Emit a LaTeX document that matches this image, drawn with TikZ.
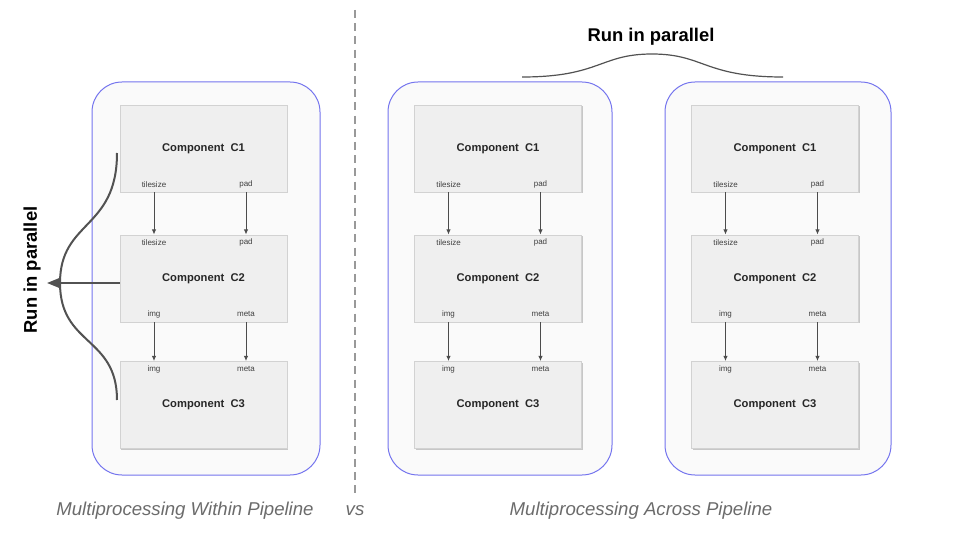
\documentclass[tikz,border=0pt]{standalone}
\usepackage{fontspec}
\setmainfont{Liberation Sans}
\usepackage{xcolor}
\usetikzlibrary{arrows.meta,calc,shadows}

\definecolor{frameblue}{HTML}{7474EE}
\definecolor{panel}{HTML}{FAFAFA}
\definecolor{boxfill}{HTML}{EFEFEF}
\definecolor{boxline}{HTML}{D2D2D2}

\begin{document}
\begin{tikzpicture}[x=0.5pt,y=-0.5pt,
  font=\fontsize{5.5}{6.5}\selectfont,
  pipe/.style={draw=frameblue,fill=panel,line width=0.5pt,rounded corners=15pt,minimum width=#1,minimum height=196.5pt},
  comp/.style={draw=boxline,fill=boxfill,line width=0.4pt,minimum width=83.5pt,minimum height=43.5pt,
    font=\fontsize{5.6}{6.5}\selectfont\bfseries,text=black!85,
    drop shadow={shadow xshift=0.6pt,shadow yshift=-0.6pt,fill=black!22,opacity=1}},
  port/.style={font=\fontsize{4}{5}\selectfont,text=black!75,inner sep=0pt},
  arr/.style={-{Latex[length=2.6pt,width=2.2pt]},draw=black!70,line width=0.45pt},
  curl/.style={draw=black!68,line width=1pt},
  title/.style={font=\fontsize{9.2}{11}\selectfont\bfseries},
  caption/.style={font=\fontsize{9.3}{11}\selectfont\itshape,text=black!58}
]
\useasboundingbox (0,0) rectangle (960,540);
% containers
\node[pipe=114pt] (within) at (206,278.5) {};
\node[pipe=112pt] (across1) at (500,278.5) {};
\node[pipe=113pt] (across2) at (778,278.5) {};
% three pipelines
\foreach \p/\x in {a/203.5,b/498,c/775}{
  \node[comp] (\p1) at (\x,148.5) {Component~ C1};
  \node[comp] (\p2) at (\x,278.5) {Component~ C2};
  \node[comp] (\p3) at (\x,405) {Component~ C3};
  \node[port] (\p1t) at ($(\p1.south)+(-49.5,-8)$) {tilesize};
  \node[port] (\p1p) at ($(\p1.south)+(42.5,-8)$) {pad};
  \node[port] (\p2t) at ($(\p2.north)+(-49.5,8)$) {tilesize};
  \node[port] (\p2p) at ($(\p2.north)+(42.5,8)$) {pad};
  \node[port] (\p2i) at ($(\p2.south)+(-49.5,-8)$) {img};
  \node[port] (\p2m) at ($(\p2.south)+(42.5,-8)$) {meta};
  \node[port] (\p3i) at ($(\p3.north)+(-49.5,8)$) {img};
  \node[port] (\p3m) at ($(\p3.north)+(42.5,8)$) {meta};
  \draw[arr] (\p1.south -| \p1t) -- (\p2.north -| \p1t);
  \draw[arr] (\p1.south -| \p1p) -- (\p2.north -| \p1p);
  \draw[arr] (\p2.south -| \p2i) -- (\p3.north -| \p2i);
  \draw[arr] (\p2.south -| \p2m) -- (\p3.north -| \p2m);
}
% brace on the left
\coordinate (brtop) at (117,153);
\coordinate (brtip) at (60,283);
\coordinate (brbot) at (117,400);
\coordinate (runtip) at (47,283);
\draw[curl] (brtop) .. controls +(0,77) and +(0,-63) .. (brtip) .. controls +(0,63) and +(0,-64) .. (brbot);
\draw[curl,-{Triangle[length=6.5pt,width=5pt]}] (a2.west |- brtip) -- (runtip);
\node[title,rotate=90] (runleft) at (32,270) {Run in parallel};
% brace on top
\coordinate (topl) at (522,77);
\coordinate (topc) at (652,54);
\coordinate (topr) at (783,77);
\draw[draw=black!68,line width=0.6pt] (topl) .. controls +(78,0) and +(-52,0) .. (topc) .. controls +(52,0) and +(-79,0) .. (topr);
\node[title] (runtop) at (651,37) {Run in parallel};
% separator and captions
\coordinate (sepa) at (355,10);
\coordinate (sepb) at (355,495);
\draw[draw=black!40,line width=0.7pt,dash pattern=on 4pt off 2.6pt] (sepa) -- (sepb);
\node[caption] (capwithin) at (185,511) {Multiprocessing Within Pipeline};
\node[caption] (capvs) at (355,511) {vs};
\node[caption] (capacross) at (641,511) {Multiprocessing Across Pipeline};
\end{tikzpicture}
\end{document}
